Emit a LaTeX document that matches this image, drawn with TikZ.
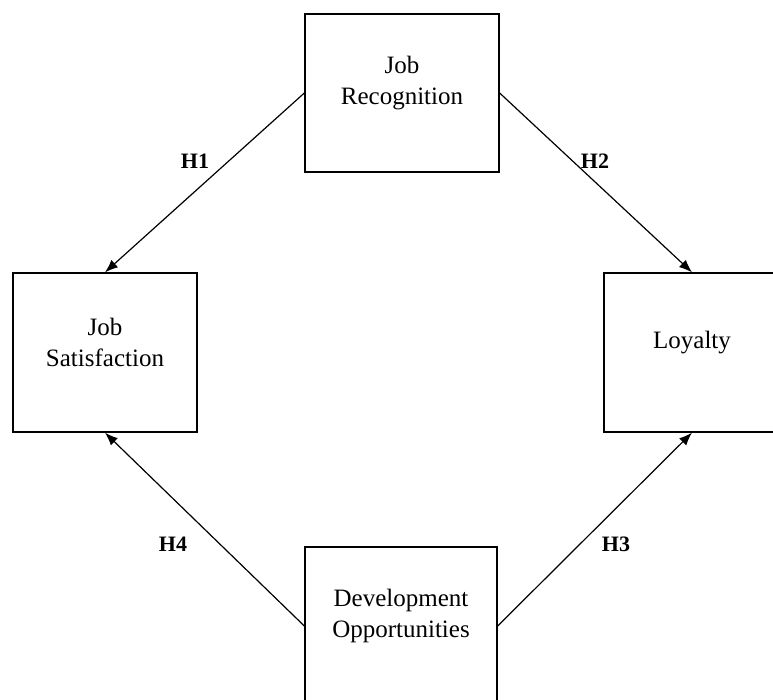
\documentclass[tikz,border=0pt]{standalone}
\usepackage{fontspec}
\setmainfont{Liberation Serif}
\usetikzlibrary{arrows.meta}

\begin{document}
\begin{tikzpicture}[x=1pt, y=-1pt,
  box/.style={rectangle, draw, line width=1.3pt, inner sep=0pt},
  boxtext/.style={align=center, yshift=10pt, font=\fontsize{25}{31}\selectfont},
  hyp/.style={font=\fontsize{22}{26}\selectfont\bfseries},
  path_arrow/.style={line width=1.2pt, -{Latex[length=13pt, width=10pt]}}]

\useasboundingbox (0,0) rectangle (773,700);

% Boxes
\node (recognition) at (402, 93) [box, minimum width=194, minimum height=158] {};
\node (satisfaction) at (105, 352.5) [box, minimum width=184, minimum height=159] {};
\node (loyalty) at (692, 352.5) [box, minimum width=176, minimum height=159] {};
\node (development) at (401, 626) [box, minimum width=192, minimum height=158] {};

% Box texts
\node (recognitiontext) at (recognition.center) [boxtext] {Job\\Recognition};
\node (satisfactiontext) at (satisfaction.center) [boxtext] {Job\\Satisfaction};
\node (loyaltytext) at (loyalty.center) [boxtext] {Loyalty};
\node (developmenttext) at (development.center) [boxtext] {Development\\Opportunities};

% Hypotheses
\draw[path_arrow] (recognition.west) -- (satisfaction.north);
\draw[path_arrow] (recognition.east) -- (loyalty.north);
\draw[path_arrow] (development.east) -- (loyalty.south);
\draw[path_arrow] (development.west) -- (satisfaction.south);

% Labels
\node (h1) at (195, 161) [hyp] {H1};
\node (h2) at (595, 161) [hyp] {H2};
\node (h3) at (616, 544) [hyp] {H3};
\node (h4) at (173, 544) [hyp] {H4};

\end{tikzpicture}
\end{document}
